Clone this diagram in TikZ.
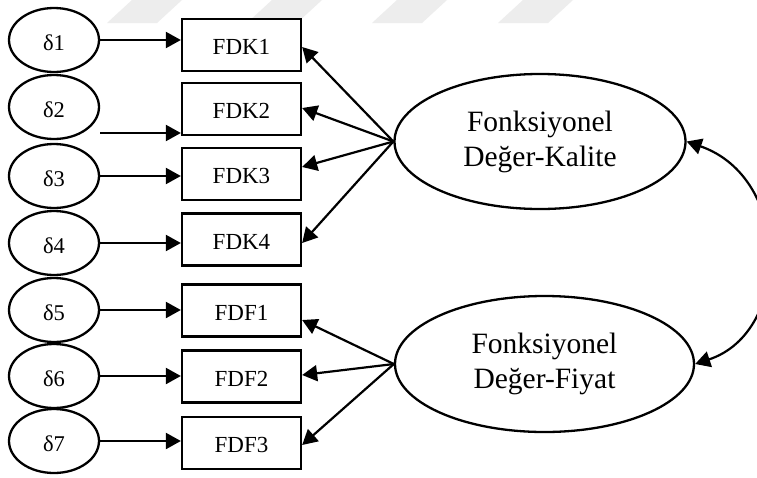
\documentclass[tikz,border=0pt]{standalone}
\usepackage{fontspec}
\setmainfont{Liberation Serif}
\usetikzlibrary{arrows.meta,shapes.geometric}

\tikzset{
  errterm/.style={ellipse, draw, line width=2.3pt, fill=white, inner sep=0pt,
    minimum width=90pt, minimum height=64pt,
    font=\fontsize{22.5}{26}\selectfont, text height=20.5pt, text depth=0pt},
  indicator/.style={rectangle, draw, line width=2.3pt, fill=white, inner sep=0pt,
    minimum width=119pt, minimum height=52pt,
    font=\fontsize{23}{27}\selectfont, text height=19pt, text depth=0pt},
  latent/.style={ellipse, draw, line width=2.3pt, fill=white, inner sep=0pt,
    align=center, font=\fontsize{29.5}{35}\selectfont},
  arr/.style={line width=2.2pt, -{Triangle[length=15pt,width=16pt]}},
  biarr/.style={line width=2.2pt, {Triangle[length=15pt,width=16pt]}-{Triangle[length=15pt,width=16pt]}},
  wmark/.style={fill=black!7, draw=none}
}

\begin{document}
\begin{tikzpicture}[x=1pt, y=-1pt]
  \useasboundingbox (0,0) rectangle (757,477);
  \clip (0,0) rectangle (757,477);
  \fill[white] (0,0) rectangle (757,477);

  % faint background stripes
  \foreach \bx in {107,247,372,498}
    \fill[wmark] (\bx,23) -- (\bx+50,23) -- (\bx+75,0) -- (\bx+25,0) -- cycle;

  % error terms
  \node[errterm] (d1) at (54,40)  {δ1};
  \node[errterm] (d2) at (54,107) {δ2};
  \node[errterm] (d3) at (54,176) {δ3};
  \node[errterm] (d4) at (54,243) {δ4};
  \node[errterm] (d5) at (54,310) {δ5};
  \node[errterm] (d6) at (54,376) {δ6};
  \node[errterm] (d7) at (54,441) {δ7};

  % observed indicators
  \node[indicator] (k1) at (241.5,45)    {FDK1};
  \node[indicator] (k2) at (241.5,109)   {FDK2};
  \node[indicator] (k3) at (241.5,174)   {FDK3};
  \node[indicator] (k4) at (241.5,239.5) {FDK4};
  \node[indicator] (f1) at (241.5,310.5) {FDF1};
  \node[indicator] (f2) at (241.5,376.5) {FDF2};
  \node[indicator] (f3) at (241.5,443)   {FDF3};

  % latent constructs
  \node[latent, minimum width=291pt, minimum height=135pt] (K) at (540,141.5)
    {Fonksiyonel\\Değer-Kalite};
  \node[latent, minimum width=299pt, minimum height=136pt] (F) at (544.5,364)
    {Fonksiyonel\\Değer-Fiyat};

  % error paths
  \draw[arr] (d1.east) -- (d1.east -| k1.west);
  \coordinate (d2out) at (100,133);
  \draw[arr] (d2out) -- (d2out -| k2.west);
  \draw[arr] (d3.east) -- (d3.east -| k3.west);
  \draw[arr] (d4.east) -- (d4.east -| k4.west);
  \draw[arr] (d5.east) -- (d5.east -| f1.west);
  \draw[arr] (d6.east) -- (d6.east -| f2.west);
  \draw[arr] (d7.east) -- (d7.east -| f3.west);

  % factor loadings
  \draw[arr] (K.west) -- ([yshift=-2pt]k1.east);
  \draw[arr] (K.west) -- ([yshift=1pt]k2.east);
  \draw[arr] (K.west) -- ([yshift=7pt]k3.east);
  \draw[arr] (K.west) -- ([yshift=-3.5pt]k4.east);
  \draw[arr] (F.west) -- ([yshift=-9.5pt]f1.east);
  \draw[arr] (F.west) -- ([yshift=1.5pt]f2.east);
  \draw[arr] (F.west) -- ([yshift=-2pt]f3.east);

  % covariance between the constructs
  \draw[biarr] (K.east) .. controls (792,178) and (792,332) .. (F.east);
\end{tikzpicture}
\end{document}
